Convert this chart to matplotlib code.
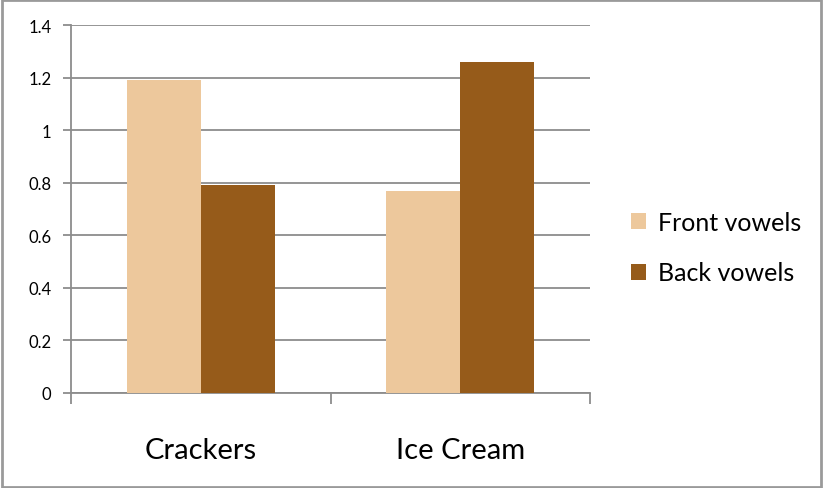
import numpy as np
import matplotlib.pyplot as plt
from matplotlib.patches import Rectangle

plt.rcParams['font.family'] = ['Lato', 'DejaVu Sans']

# Data
categories = ['Crackers', 'Ice Cream']
series = ['Front vowels', 'Back vowels']
front = [1.19, 0.77]
back = [0.79, 1.26]
colors = ['#EDC89C', '#965B1A']

fig = plt.figure(figsize=(8.23, 4.89), dpi=100)
ax = fig.add_axes([0.0863, 0.1943, 0.6306, 0.7525])

x = np.arange(len(categories))
w = 0.285
ax.bar(x - w / 2, front, w, color=colors[0], label=series[0], zorder=3)
ax.bar(x + w / 2, back, w, color=colors[1], label=series[1], zorder=3)

ax.set_xlim(-0.5, 1.5)
ax.set_ylim(0, 1.4)
ax.set_yticks(np.arange(0, 1.41, 0.2))
ax.set_yticklabels(['0', '0.2', '0.4', '0.6', '0.8', '1', '1.2', '1.4'])
ax.yaxis.grid(True, color='#8c8c8c', linewidth=1.3, zorder=0)

ax.set_xticks(x)
ax.set_xticklabels(categories, fontsize=21)
ax.set_xticks([-0.5, 0.5, 1.5], minor=True)
ax.tick_params(axis='x', which='major', length=0, pad=32)
ax.tick_params(axis='x', which='minor', length=8, width=1.3, color='#8c8c8c')
ax.tick_params(axis='y', length=6, width=1.3, color='#8c8c8c', labelsize=12, pad=8)

for s in ['top', 'right']:
    ax.spines[s].set_visible(False)
for s in ['left', 'bottom']:
    ax.spines[s].set_color('#8c8c8c')
    ax.spines[s].set_linewidth(1.3)

ax.legend(loc='center left', bbox_to_anchor=(1.035, 0.395), frameon=False,
          fontsize=18, handlelength=0.6, handleheight=0.6, handletextpad=0.5,
          labelspacing=1.1)

fig.patches.append(Rectangle((0.002, 0.003), 0.995, 0.994, transform=fig.transFigure,
                             fill=False, edgecolor='#9a9a9a', linewidth=2))

fig.savefig('out.png', dpi=100)
